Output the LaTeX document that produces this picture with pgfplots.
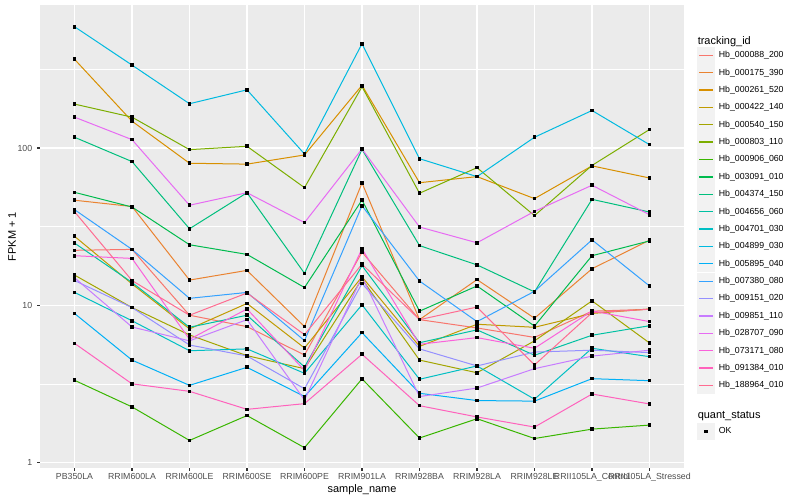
\documentclass[border=0pt]{standalone}
\usepackage{pgfplots}
\pgfplotsset{compat=1.18}
\usepackage{pgfplotstable}
\usepackage{fontspec}
\setmainfont{Liberation Sans}
\definecolor{ggbg}{HTML}{EBEBEB}
\definecolor{ggkey}{HTML}{F2F2F2}
\definecolor{gray20}{HTML}{333333}
\definecolor{gray30}{HTML}{4D4D4D}
\definecolor{c1}{HTML}{F8766D}
\definecolor{c2}{HTML}{EA8331}
\definecolor{c3}{HTML}{D89000}
\definecolor{c4}{HTML}{C09B00}
\definecolor{c5}{HTML}{A3A500}
\definecolor{c6}{HTML}{7CAE00}
\definecolor{c7}{HTML}{39B600}
\definecolor{c8}{HTML}{00BB4E}
\definecolor{c9}{HTML}{00BF7D}
\definecolor{c10}{HTML}{00C1A3}
\definecolor{c11}{HTML}{00BFC4}
\definecolor{c12}{HTML}{00BAE0}
\definecolor{c13}{HTML}{00B0F6}
\definecolor{c14}{HTML}{35A2FF}
\definecolor{c15}{HTML}{9590FF}
\definecolor{c16}{HTML}{C77CFF}
\definecolor{c17}{HTML}{E76BF3}
\definecolor{c18}{HTML}{FA62DB}
\definecolor{c19}{HTML}{FF62BC}
\definecolor{c20}{HTML}{FF6C91}
\pgfplotstableread{
x s1 s2 s3 s4 s5 s6 s7 s8 s9 s10 s11 s12 s13 s14 s15 s16 s17 s18 s19 s20
1 22.4 46.6 366 27.5 15.6 190 3.35 52.3 117 24.9 12.1 589 8.9 40.6 14.4 15.0 157 20.7 5.75 39.4
2 22.7 42.5 148 13.7 9.7 157 2.27 42.2 82 14.0 8.0 336 4.5 22.7 9.7 7.3 113 19.9 3.18 14.4
3 8.67 14.5 80 7.1 6.5 97.6 1.39 24.3 30.7 7.27 5.16 191 3.11 11.1 5.61 5.96 43.3 6.1 2.85 8.67
4 7.34 16.7 79 10.3 4.8 102.5 2.0 21.1 52 8.67 5.3 234 4.05 12.1 4.78 8.13 52 9.5 2.19 12.0
5 4.85 7.34 90.3 5.37 3.97 56 1.25 13 16 4.07 3.71 91.6 2.64 5.98 2.96 2.51 33.6 3.87 2.38 6.53
6 21.8 60 250 15.2 14.7 245 3.42 46.7 98 17.9 10.1 459 6.72 43 13.8 15.2 98.6 22.9 4.9 18.3
7 8.13 8.13 60.2 5.5 4.5 51.6 1.44 9.2 24 5.8 3.4 85.5 2.77 14.3 5.3 2.64 31.5 5.67 2.31 8.13
8 7.2 14.6 65.8 7.6 3.74 75 1.91 13.3 18.1 7.0 4.13 65.8 2.49 7.9 4.13 2.99 25 6.25 1.96 9.77
9 6.27 8.3 47.7 7.27 5.96 37.2 1.43 7.4 12.2 4.83 2.54 117 2.47 12.3 5.06 3.97 39.6 5.35 1.69 4.19
10 9.2 17.1 77 8.9 10.7 77.5 1.64 20.7 47.2 6.47 5.35 173 3.43 26.1 5.2 4.77 58 9.23 2.74 9.0
11 9.46 26 64.5 9.5 5.78 131 1.74 25.7 39.2 7.44 4.73 105 3.33 13.3 5.02 5.2 37.7 7.9 2.37 9.46
}\data
\begin{document}
\begin{tikzpicture}
\path[use as bounding box] (-40bp,-32bp) rectangle (760bp,468bp);
\begin{axis}[
  at={(0,0)}, anchor=south west,
  scale only axis, width=644bp, height=463bp,
  xmin=0.4, xmax=11.6, ymode=log, ymin=0.929, ymax=809,
  axis background/.style={fill=ggbg},
  axis line style={draw=none},
  grid=both,
  major grid style={white, line width=1.07bp},
  minor grid style={white, line width=0.53bp},
  xtick={1,2,3,4,5,6,7,8,9,10,11},
  xticklabels={PB350LA,RRIM600LA,RRIM600LE,RRIM600SE,RRIM600PE,RRIM901LA,RRIM928BA,RRIM928LA,RRIM928LE,RRII105LA\_Control,RRII105LA\_Stressed},
  ytick={1,10,100}, yticklabels={1,10,100},
  minor ytick={3.1623,31.623,316.23},
  minor tick length=0pt,
  tick align=outside, major tick length=2.75bp,
  tick style={color=gray20, line width=1.07bp},
  tick pos=left,
  /pgf/number format/assume math mode=true,
  xticklabel style={font=\fontsize{8.8}{10}\selectfont, text=gray30, inner sep=0pt, anchor=north, yshift=-2.6bp},
  yticklabel style={font=\fontsize{8.8}{10}\selectfont, text=gray30, inner sep=0pt, anchor=east, xshift=-4.9bp},
  xlabel={sample\_name},
  ylabel={FPKM + 1},
  xlabel style={font=\fontsize{11}{13}\selectfont, at={(axis description cs:0.5,-0.0475)}, anchor=center, inner sep=0pt},
  ylabel style={font=\fontsize{11}{13}\selectfont, at={(axis description cs:-0.0435,0.5)}, anchor=center, inner sep=0pt},
  legend cell align=left,
  legend style={at={(axis description cs:1.0202,0.932)}, anchor=north west, draw=none, fill=none,
    inner sep=0pt, outer sep=0pt, row sep=0.1bp, column sep=3.5bp,
    nodes={inner sep=0pt}, font=\fontsize{8.8}{10}\selectfont},
  legend image code/.code={
    \fill[ggkey] (0bp,-8.14bp) rectangle (17.28bp,8.14bp);
    \draw[#1, mark=none, line width=1.3bp] (1.7bp,0bp) -- (15.6bp,0bp);
  },
  every axis plot/.append style={line width=1bp},
]
\addlegendimage{empty legend}
\addlegendentry{\hspace*{-21bp}{\fontsize{11}{13}\selectfont tracking\_id}\rule[-8.6bp]{0pt}{17.1bp}}
\addplot[c1] table[x=x,y=s1]{\data}; \addlegendentry{Hb\_000088\_200}
\addplot[c2] table[x=x,y=s2]{\data}; \addlegendentry{Hb\_000175\_390}
\addplot[c3] table[x=x,y=s3]{\data}; \addlegendentry{Hb\_000261\_520}
\addplot[c4] table[x=x,y=s4]{\data}; \addlegendentry{Hb\_000422\_140}
\addplot[c5] table[x=x,y=s5]{\data}; \addlegendentry{Hb\_000540\_150}
\addplot[c6] table[x=x,y=s6]{\data}; \addlegendentry{Hb\_000803\_110}
\addplot[c7] table[x=x,y=s7]{\data}; \addlegendentry{Hb\_000906\_060}
\addplot[c8] table[x=x,y=s8]{\data}; \addlegendentry{Hb\_003091\_010}
\addplot[c9] table[x=x,y=s9]{\data}; \addlegendentry{Hb\_004374\_150}
\addplot[c10] table[x=x,y=s10]{\data}; \addlegendentry{Hb\_004656\_060}
\addplot[c11] table[x=x,y=s11]{\data}; \addlegendentry{Hb\_004701\_030}
\addplot[c12] table[x=x,y=s12]{\data}; \addlegendentry{Hb\_004899\_030}
\addplot[c13] table[x=x,y=s13]{\data}; \addlegendentry{Hb\_005895\_040}
\addplot[c14] table[x=x,y=s14]{\data}; \addlegendentry{Hb\_007380\_080}
\addplot[c15] table[x=x,y=s15]{\data}; \addlegendentry{Hb\_009151\_020}
\addplot[c16] table[x=x,y=s16]{\data}; \addlegendentry{Hb\_009851\_110}
\addplot[c17] table[x=x,y=s17]{\data}; \addlegendentry{Hb\_028707\_090}
\addplot[c18] table[x=x,y=s18]{\data}; \addlegendentry{Hb\_073171\_080}
\addplot[c19] table[x=x,y=s19]{\data}; \addlegendentry{Hb\_091384\_010}
\addplot[c20] table[x=x,y=s20]{\data}; \addlegendentry{Hb\_188964\_010}
\addlegendimage{empty legend}
\addlegendentry{\rule{0pt}{16bp}}
\addlegendimage{empty legend}
\addlegendentry{\hspace*{-21bp}\raisebox{2.3bp}{\fontsize{11}{13}\selectfont quant\_status}\rule[-12bp]{0pt}{20.5bp}}
\addlegendimage{legend image code/.code={
    \fill[ggkey] (0bp,-8.14bp) rectangle (17.28bp,8.14bp);
    \fill[black] (7.34bp,-1.3bp) rectangle (9.94bp,1.3bp);}}
\addlegendentry{OK}
\pgfplotsinvokeforeach{1,...,20}{
  \addplot[forget plot, only marks, mark=square*, mark size=1.3bp, mark options={black, fill=black, line width=0pt}] table[x=x,y=s#1]{\data};
}
\end{axis}
\end{tikzpicture}
\end{document}
